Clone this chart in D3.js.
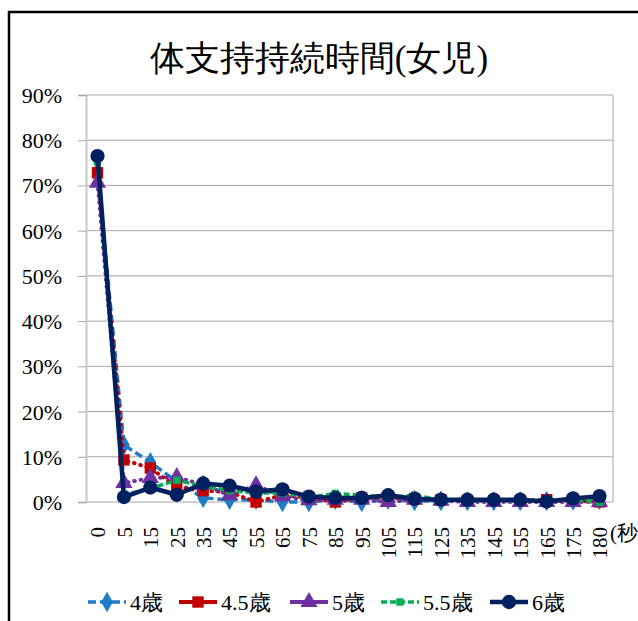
<!DOCTYPE html>
<html><head><meta charset="utf-8">
<script src="https://cdn.jsdelivr.net/npm/d3@7"></script>
<style>
html,body{margin:0;padding:0;background:#fff;}
svg{display:block;}
</style></head>
<body>
<svg id="c" width="638" height="621"></svg>
<script>
const FONT = "Liberation Serif";
const title = "体支持持続時間(女児)";
const categories = ["0","5","15","25","35","45","55","65","75","85","95","105","115","125","135","145","155","165","175","180"];
const yTicks = [0,0.1,0.2,0.3,0.4,0.5,0.6,0.7,0.8,0.9];
const seriesNames = ["4歳","4.5歳","5歳","5.5歳","6歳"];
const age4   = [73.0,12.6,8.8,4.5,0.9,0.5,0.5,0.0,0.0,0.5,0.0,0.5,0.2,0.2,0.2,0.2,0.2,0.2,0.3,0.5];
const age45  = [72.8,9.3,7.5,3.3,2.5,2.2,0.0,1.5,1.0,0.0,0.9,1.0,0.7,0.5,0.3,0.3,0.3,0.5,0.3,0.0];
const age5   = [70.6,4.2,5.3,5.5,3.8,1.5,3.7,1.2,0.4,0.5,0.5,0.0,0.5,0.3,0.0,0.0,0.0,0.0,0.0,0.0];
const age55  = [75.2,1.5,3.0,4.8,3.5,2.5,2.0,2.0,1.0,1.9,1.5,1.0,1.5,0.5,0.3,0.3,0.3,0.3,0.5,0.0];
const age6   = [76.5,1.1,3.2,1.6,4.1,3.6,2.3,2.8,1.2,0.9,0.9,1.5,0.7,0.5,0.5,0.5,0.5,0.1,0.8,1.3];
const seriesValues = [age4, age45, age5, age55, age6];

const styles = [
  {color:"#1f7bc8", width:3.5, dash:"8,4", cap:"butt", marker:"diamond", size:120},
  {color:"#c00000", width:4, dash:"0.5,6", cap:"round", marker:"square", size:130},
  {color:"#7030a0", width:4, dash:"0.5,6", cap:"round", marker:"triangle", size:130},
  {color:"#00b050", width:3.5, dash:"6,3", cap:"butt", marker:"square", size:55},
  {color:"#002060", width:4.5, dash:null, cap:"round", marker:"circle", size:160}
];
const symMap = {diamond:d3.symbolDiamond, square:d3.symbolSquare, triangle:d3.symbolTriangle, circle:d3.symbolCircle};

const svg = d3.select("#c");
svg.append("path").attr("d","M9,621 V12 H640").attr("fill","none").attr("stroke","#000").attr("stroke-width",2.5);

svg.append("text").attr("x",319).attr("y",70).attr("text-anchor","middle")
  .style("font-family",FONT).style("font-size","35px").text(title);

const x = d3.scalePoint().domain(categories).range([97.5,599.5]);
const y = d3.scaleLinear().domain([0,0.9]).range([502,95]);
const plotL = 86, plotR = 613;

svg.append("g").selectAll("line").data(yTicks).join("line")
  .attr("x1",plotL).attr("x2",plotR).attr("y1",d=>y(d)).attr("y2",d=>y(d))
  .attr("stroke","#a6a6a6").attr("stroke-width",1);
svg.append("line").attr("x1",plotR).attr("x2",plotR).attr("y1",y(0.9)).attr("y2",y(0))
  .attr("stroke","#a6a6a6");

const yAxis = d3.axisLeft(y).tickValues(yTicks).tickFormat(d3.format(".0%")).tickSize(8).tickPadding(16);
const ga = svg.append("g").attr("transform",`translate(${plotL},0)`).call(yAxis);
ga.attr("font-family",FONT);
ga.select(".domain").attr("stroke","#c8c8c8").attr("stroke-width",2);
ga.selectAll(".tick line").attr("stroke","#a6a6a6");
ga.selectAll(".tick text").style("font-family",FONT).style("font-size","22px").attr("fill","#000").attr("dy","0.34em");

const xAxis = d3.axisBottom(x).tickSize(0).tickPadding(0);
const gx = svg.append("g").attr("transform",`translate(0,${y(0)})`).call(xAxis);
gx.attr("font-family",FONT);
gx.select(".domain").remove();
gx.selectAll(".tick text").style("font-family",FONT).style("font-size","21px").attr("fill","#000")
  .attr("transform","rotate(-90)").attr("text-anchor","end").attr("x",-25).attr("y",0).attr("dy","0.35em");

svg.append("text").attr("x",610).attr("y",540).style("font-family",FONT).style("font-size","21px").text("(秒");

const line = d3.line().x((d,i)=>x(categories[i])).y(d=>y(d/100));
seriesValues.forEach((vals,si)=>{
  const s = styles[si];
  const g = svg.append("g");
  g.append("path").datum(vals).attr("d",line).attr("fill","none")
    .attr("stroke",s.color).attr("stroke-width",s.width)
    .attr("stroke-dasharray",s.dash).attr("stroke-linecap",s.cap).attr("stroke-linejoin","round");
  g.selectAll("path.m").data(vals).join("path").attr("class","m")
    .attr("d",d3.symbol().type(symMap[s.marker]).size(s.size))
    .attr("transform",(d,i)=>`translate(${x(categories[i])},${y(d/100)})`)
    .attr("fill",s.color);
});

const legX = [88,179,290,381,490];
const legY = 602;
seriesNames.forEach((n,i)=>{
  const s = styles[i];
  const g = svg.append("g").attr("transform",`translate(${legX[i]},${legY})`);
  g.append("line").attr("x1",0).attr("x2",38).attr("y1",0).attr("y2",0)
    .attr("stroke",s.color).attr("stroke-width",s.width)
    .attr("stroke-dasharray", i===1||i===2 ? null : s.dash);
  g.append("path").attr("d",d3.symbol().type(symMap[s.marker]).size(s.size))
    .attr("transform","translate(19,0)").attr("fill",s.color);
  g.append("text").attr("x",42).attr("y",8).style("font-family",FONT).style("font-size","22px").text(n);
});
</script>
</body></html>
